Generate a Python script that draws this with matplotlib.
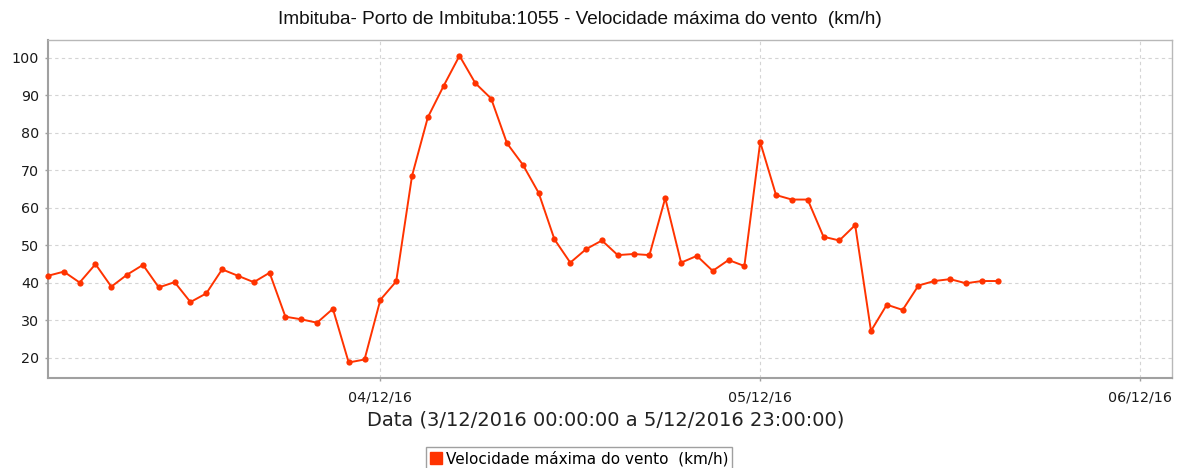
import numpy as np
import pandas as pd
import matplotlib
matplotlib.use('Agg')
import matplotlib.pyplot as plt
import matplotlib.dates as mdates
from matplotlib.lines import Line2D

# leituras horárias (km/h), primeira às 03/12/2016 03:00
inicio = '2016-12-03 03:00'
velocidade = [41.9, 43.0, 40.1, 45.0, 39.0, 42.2, 44.8, 38.8, 40.2, 34.9,
              37.2, 43.6, 41.9, 40.2, 42.7, 31.0, 30.3, 29.4, 33.1, 18.8,
              19.6, 35.5, 40.4, 68.5, 84.1, 92.5, 100.5, 93.2, 89.1, 77.2,
              71.5, 64.0, 51.6, 45.4, 49.0, 51.3, 47.4, 47.7, 47.4, 62.6,
              45.4, 47.2, 43.2, 46.1, 44.5, 77.5, 63.4, 62.2, 62.2, 52.3,
              51.3, 55.4, 27.2, 34.2, 32.8, 39.3, 40.5, 41.0, 39.9, 40.5,
              40.5]
horas = pd.date_range(inicio, periods=len(velocidade), freq='h')
xmin, xmax = pd.Timestamp('2016-12-03 03:00'), pd.Timestamp('2016-12-06 02:00')
titulo = 'Imbituba- Porto de Imbituba:1055 - Velocidade máxima do vento  (km/h)'
rotulo_x = 'Data (3/12/2016 00:00:00 a 5/12/2016 23:00:00)'
serie = 'Velocidade máxima do vento  (km/h)'

cor = '#ff3300'
cinza = '#a0a0a0'

fig = plt.figure(figsize=(11.86, 4.68), dpi=100)
ax = fig.add_axes([48 / 1186, 1 - 377.7 / 468, (1171.7 - 48) / 1186, (377.7 - 40) / 468])

ax.plot(horas, velocidade, color=cor, lw=1.4, marker='o', markersize=4.5,
        markeredgewidth=0, clip_on=False, zorder=3)

ax.set_xlim(xmin, xmax)
ax.set_ylim(14.75, 104.7)
ax.set_yticks(np.arange(20, 101, 10))
ax.xaxis.set_major_locator(mdates.DayLocator())
ax.xaxis.set_major_formatter(mdates.DateFormatter('%d/%m/%y'))

ax.grid(True, color='#d4d4d4', lw=0.8, linestyle=(0, (3, 3)))
for s in ax.spines.values():
    s.set_color('#b8b8b8')
    s.set_linewidth(1.0)
ax.spines['left'].set_color(cinza)
ax.spines['bottom'].set_color(cinza)
ax.spines['left'].set_linewidth(1.5)
ax.spines['bottom'].set_linewidth(1.5)
ax.tick_params(axis='both', length=2.5, width=1, color=cinza, labelsize=10.3,
               labelcolor='#1a1a1a')
ax.tick_params(axis='x', pad=7)
ax.tick_params(axis='y', pad=4)

fig.text(579.5 / 1186, 1 - 20 / 468, titulo, ha='center', va='center',
         fontsize=13.65, family='Liberation Sans', color='#111111')
fig.text(606 / 1186, 1 - 420 / 468, rotulo_x, ha='center', va='center',
         fontsize=14.05, color='#222222')

h = Line2D([], [], marker='s', color=cor, linestyle='none', markersize=8.5)
leg = fig.legend([h], [serie], loc='upper left',
                 bbox_to_anchor=(426 / 1186, 1 - 447 / 468), fontsize=11,
                 fancybox=False, framealpha=1, edgecolor=cinza,
                 handlelength=0.8, handletextpad=0.25, borderpad=0.25,
                 borderaxespad=0)
leg.get_frame().set_linewidth(1.0)

fig.savefig('out.png', dpi=100)
